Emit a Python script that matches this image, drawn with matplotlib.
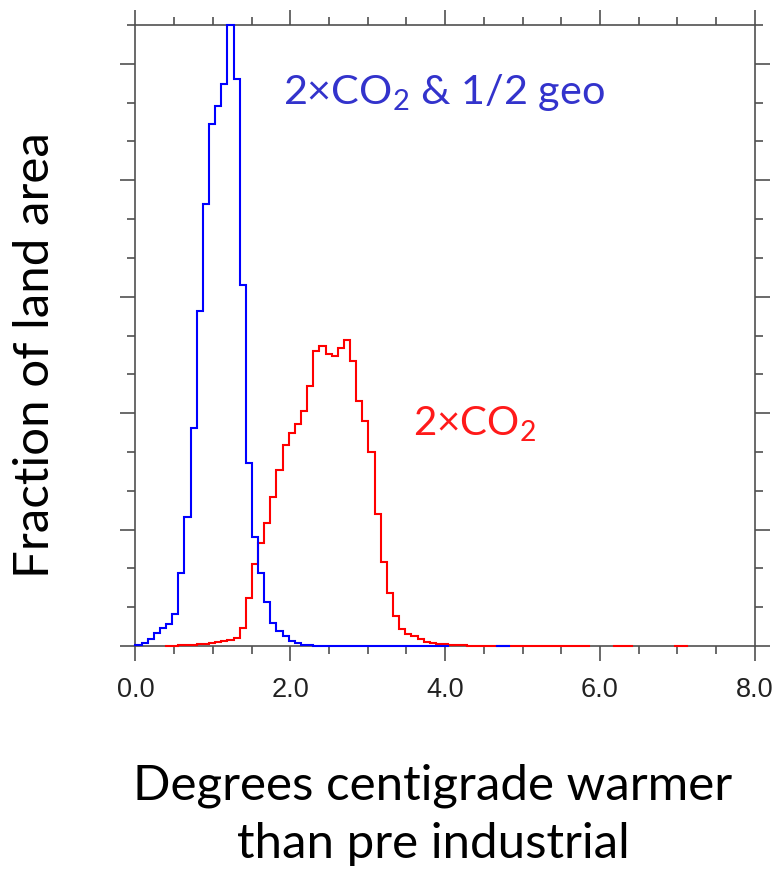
import numpy as np
import matplotlib
matplotlib.use("Agg")
import matplotlib.pyplot as plt
from matplotlib.ticker import MultipleLocator, NullFormatter, FormatStrFormatter

# ---------------- data ----------------
n_bins = 101
x_min, x_max = 0.0, 8.0
nan = np.nan

# 2xCO2 & 1/2 geo (blue), percent of land area per bin, bins 0..60
geo_values = [0.03, 0.09, 0.17, 0.33, 0.46, 0.57, 0.82, 1.87, 3.33, 5.61,
              8.64, 11.40, 13.46, 13.91, 14.47, 16.2, 14.61, 9.30, 4.71, 2.82,
              1.89, 1.13, 0.60, 0.39, 0.25, 0.12, 0.07, 0.03, 0.02, 0.01,
              0.01, 0.01, 0.0, 0.0, 0.0, 0.0, 0.0, 0.0, 0.0, 0.0,
              0.0, 0.0, 0.0, 0.0, 0.0, 0.0, 0.0, 0.0, 0.0, 0.0,
              0.0, nan, nan, nan, nan, nan, nan, nan, nan, 0.0,
              0.0]

# 2xCO2 (red), bins 0..89
co2_values = [nan, nan, nan, nan, nan, 0.01, 0.01, 0.02, 0.02, 0.03,
              0.04, 0.05, 0.07, 0.10, 0.12, 0.15, 0.20, 0.47, 1.23, 2.11,
              2.65, 3.18, 3.83, 4.54, 5.18, 5.50, 5.73, 6.06, 6.69, 7.61,
              7.74, 7.53, 7.46, 7.67, 7.89, 7.35, 6.32, 5.80, 5.01, 3.39,
              2.17, 1.36, 0.77, 0.45, 0.32, 0.25, 0.17, 0.11, 0.07, 0.06,
              0.04, 0.03, 0.02, 0.02, 0.01, 0.01, 0.01, 0.01, 0.0, 0.0,
              0.0, 0.0, 0.0, 0.0, 0.0, 0.0, 0.0, 0.0, 0.0, 0.0,
              0.0, 0.0, 0.0, 0.0, nan, nan, nan, nan, 0.0, 0.0,
              0.0, nan, nan, nan, nan, nan, nan, nan, 0.0, 0.0]

x_ticks_major = [0.0, 2.0, 4.0, 6.0, 8.0]
y_max = 16.0

label_geo = "2×CO$_\\mathrm{2}$ & 1/2 geo"
label_co2 = "2×CO$_\\mathrm{2}$"
xlabel_lines = ["Degrees centigrade warmer", "than pre industrial"]
ylabel = "Fraction of land area"

# ---------------- plotting ----------------
plt.rcParams['mathtext.fontset'] = 'custom'
plt.rcParams['mathtext.rm'] = 'Lato'
plt.rcParams['mathtext.it'] = 'Lato:italic'
plt.rcParams['mathtext.bf'] = 'Lato:bold'

edges = np.linspace(x_min, x_max, n_bins + 1)


def step_xy(values):
    v = np.full(n_bins, np.nan)
    v[:len(values)] = values
    xs = np.column_stack([edges[:-1], edges[1:]]).ravel()
    ys = np.repeat(v, 2)
    return xs, ys


W, H = 778, 873
fig = plt.figure(figsize=(W / 100, H / 100), dpi=100)
ax = fig.add_axes([135.4 / W, 1 - 646 / H, 619.4 / W, 621 / H])

xr, yr = step_xy(co2_values)
ax.plot(xr, yr, color='#ff0000', lw=1.5, solid_joinstyle='miter',
        zorder=3, clip_on=False)
xb, yb = step_xy(geo_values)
yb_clip = np.minimum(yb, y_max)
ax.plot(xb, yb_clip, color='#0000ff', lw=1.5, solid_joinstyle='miter',
        zorder=3.1, clip_on=False)

ax.set_xlim(x_min, x_max)
ax.set_ylim(0, y_max)

spine_col = '#505050'
for s in ax.spines.values():
    s.set_color(spine_col)
    s.set_linewidth(1.2)

ax.set_xticks(x_ticks_major)
ax.xaxis.set_major_formatter(FormatStrFormatter('%.1f'))
ax.xaxis.set_minor_locator(MultipleLocator(0.5))
ax.yaxis.set_major_locator(MultipleLocator(3))
ax.yaxis.set_minor_locator(MultipleLocator(1))
ax.yaxis.set_major_formatter(NullFormatter())
ax.tick_params(which='both', direction='out', top=True, right=True,
               color=spine_col, width=1.2)
ax.tick_params(which='major', length=11)
ax.tick_params(which='minor', length=6)
ax.tick_params(axis='x', which='major', labelsize=19.5, pad=11,
               labelcolor='#222222', labelfontfamily='Liberation Sans')

ax.text(0.238, 0.873, label_geo, transform=ax.transAxes, color='#3333cc',
        fontsize=29.8, family='Lato', ha='left', va='baseline')
ax.text(0.448, 0.338, label_co2, transform=ax.transAxes, color='#ff1a1a',
        fontsize=29, family='Lato', ha='left', va='baseline')

fig.text(35 / W, 1 - 355 / H, ylabel, rotation=90, ha='center', va='center',
         fontsize=35.5, family='Lato', color='black')
fig.text(433 / W, 1 - 800 / H, xlabel_lines[0], ha='center', va='baseline',
         fontsize=35.5, family='Lato', color='black')
fig.text(433 / W, 1 - 858 / H, xlabel_lines[1], ha='center', va='baseline',
         fontsize=35.5, family='Lato', color='black')

fig.savefig('out.png', dpi=100)
